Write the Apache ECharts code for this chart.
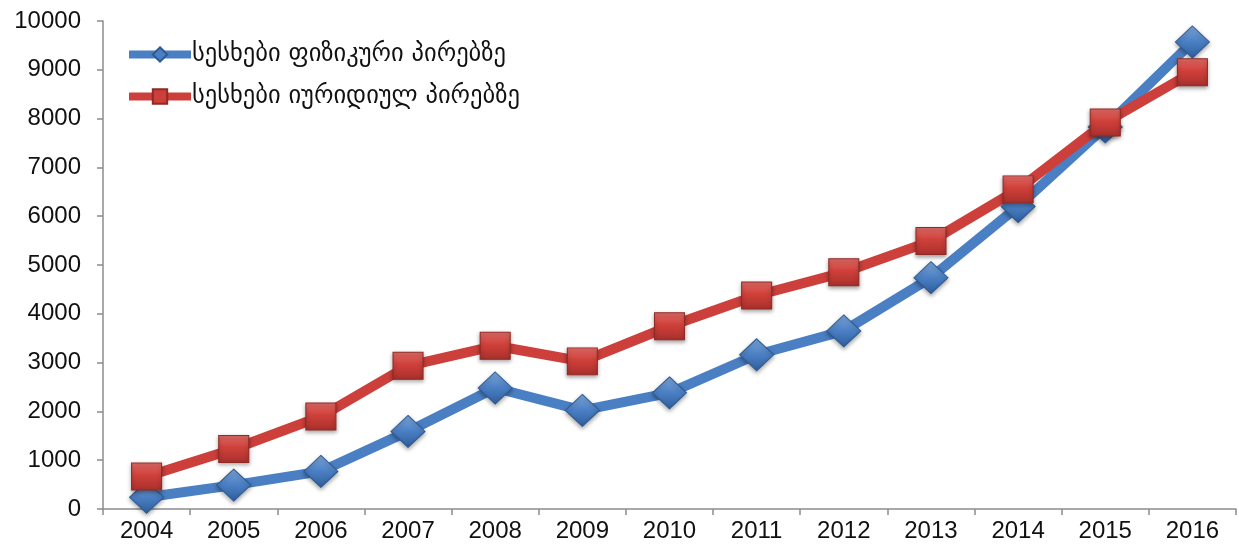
<!DOCTYPE html>
<html>
<head>
<meta charset="utf-8">
<script src="https://cdn.jsdelivr.net/npm/echarts@6/dist/echarts.min.js"></script>
<style>
html,body{margin:0;padding:0;background:#fff;}
#c{width:1239px;height:545px;}
</style>
</head>
<body>
<div id="c"></div>
<script>
var categories = ['2004','2005','2006','2007','2008','2009','2010','2011','2012','2013','2014','2015','2016'];
var physicalName = 'სესხები ფიზიკური პირებზე';
var legalName = 'სესხები იურიდიულ პირებზე';
var physicalValues = [240, 490, 770, 1590, 2480, 2020, 2380, 3160, 3650, 4740, 6200, 7830, 9570];
var legalValues = [665, 1230, 1895, 2935, 3345, 3025, 3745, 4375, 4850, 5490, 6550, 7920, 8950];
var yTicks = {min: 0, max: 10000, interval: 1000};

var chart = echarts.init(document.getElementById('c'));
var blueGrad = new echarts.graphic.LinearGradient(0, 0, 0, 1, [
  {offset: 0, color: '#7fa9dc'}, {offset: 0.5, color: '#4a7fc4'}, {offset: 1, color: '#2f5f9c'}
]);
var redGrad = new echarts.graphic.LinearGradient(0, 0, 0, 1, [
  {offset: 0, color: '#e06b66'}, {offset: 0.45, color: '#d0403a'}, {offset: 1, color: '#a8302c'}
]);
chart.setOption({
  animation: false,
  backgroundColor: '#ffffff',
  textStyle: {fontFamily: 'Liberation Sans, Arial, sans-serif'},
  grid: {left: 103, right: 3, top: 21, bottom: 36, containLabel: false},
  legend: {
    orient: 'vertical', left: 120, top: 37, itemGap: 17,
    itemWidth: 62, itemHeight: 18,
    textStyle: {fontFamily: 'DejaVu Sans, sans-serif', fontSize: 24.5, color: '#111', padding: [0,0,0,-4]},
    data: [
      {name: physicalName, itemStyle: {color: '#4a7fc4'}, lineStyle: {width: 8}},
      {name: legalName, itemStyle: {color: '#cc3f3a'}, lineStyle: {width: 8}}
    ]
  },
  xAxis: {
    type: 'category', data: categories, boundaryGap: true,
    axisLine: {lineStyle: {color: '#8c8c8c', width: 1.5}},
    axisTick: {show: true, length: 6, lineStyle: {color: '#8c8c8c', width: 1.5}},
    axisLabel: {fontSize: 24, color: '#111', margin: 10}
  },
  yAxis: {
    type: 'value', min: yTicks.min, max: yTicks.max, interval: yTicks.interval,
    axisLine: {show: true, lineStyle: {color: '#8c8c8c', width: 1.5}},
    axisTick: {show: true, length: 6, lineStyle: {color: '#8c8c8c', width: 1.5}},
    splitLine: {show: false},
    axisLabel: {fontSize: 24, color: '#111', margin: 22, formatter: function (v) { return String(v); }}
  },
  series: [
    {
      name: physicalName, type: 'line', data: physicalValues,
      symbol: 'diamond', symbolSize: [34, 32], z: 2,
      lineStyle: {color: '#4a7fc4', width: 10},
      itemStyle: {color: blueGrad, borderColor: '#2d5a92', borderWidth: 1, shadowColor: 'rgba(0,0,0,0.35)', shadowBlur: 4, shadowOffsetY: 2},
      emphasis: {disabled: true}
    },
    {
      name: legalName, type: 'line', data: legalValues,
      symbol: 'rect', symbolSize: [30, 27], z: 3,
      lineStyle: {color: '#cc3f3a', width: 10},
      itemStyle: {color: redGrad, borderColor: '#8f2a26', borderWidth: 1, shadowColor: 'rgba(0,0,0,0.35)', shadowBlur: 4, shadowOffsetY: 2},
      emphasis: {disabled: true}
    }
  ]
});
</script>
</body>
</html>
